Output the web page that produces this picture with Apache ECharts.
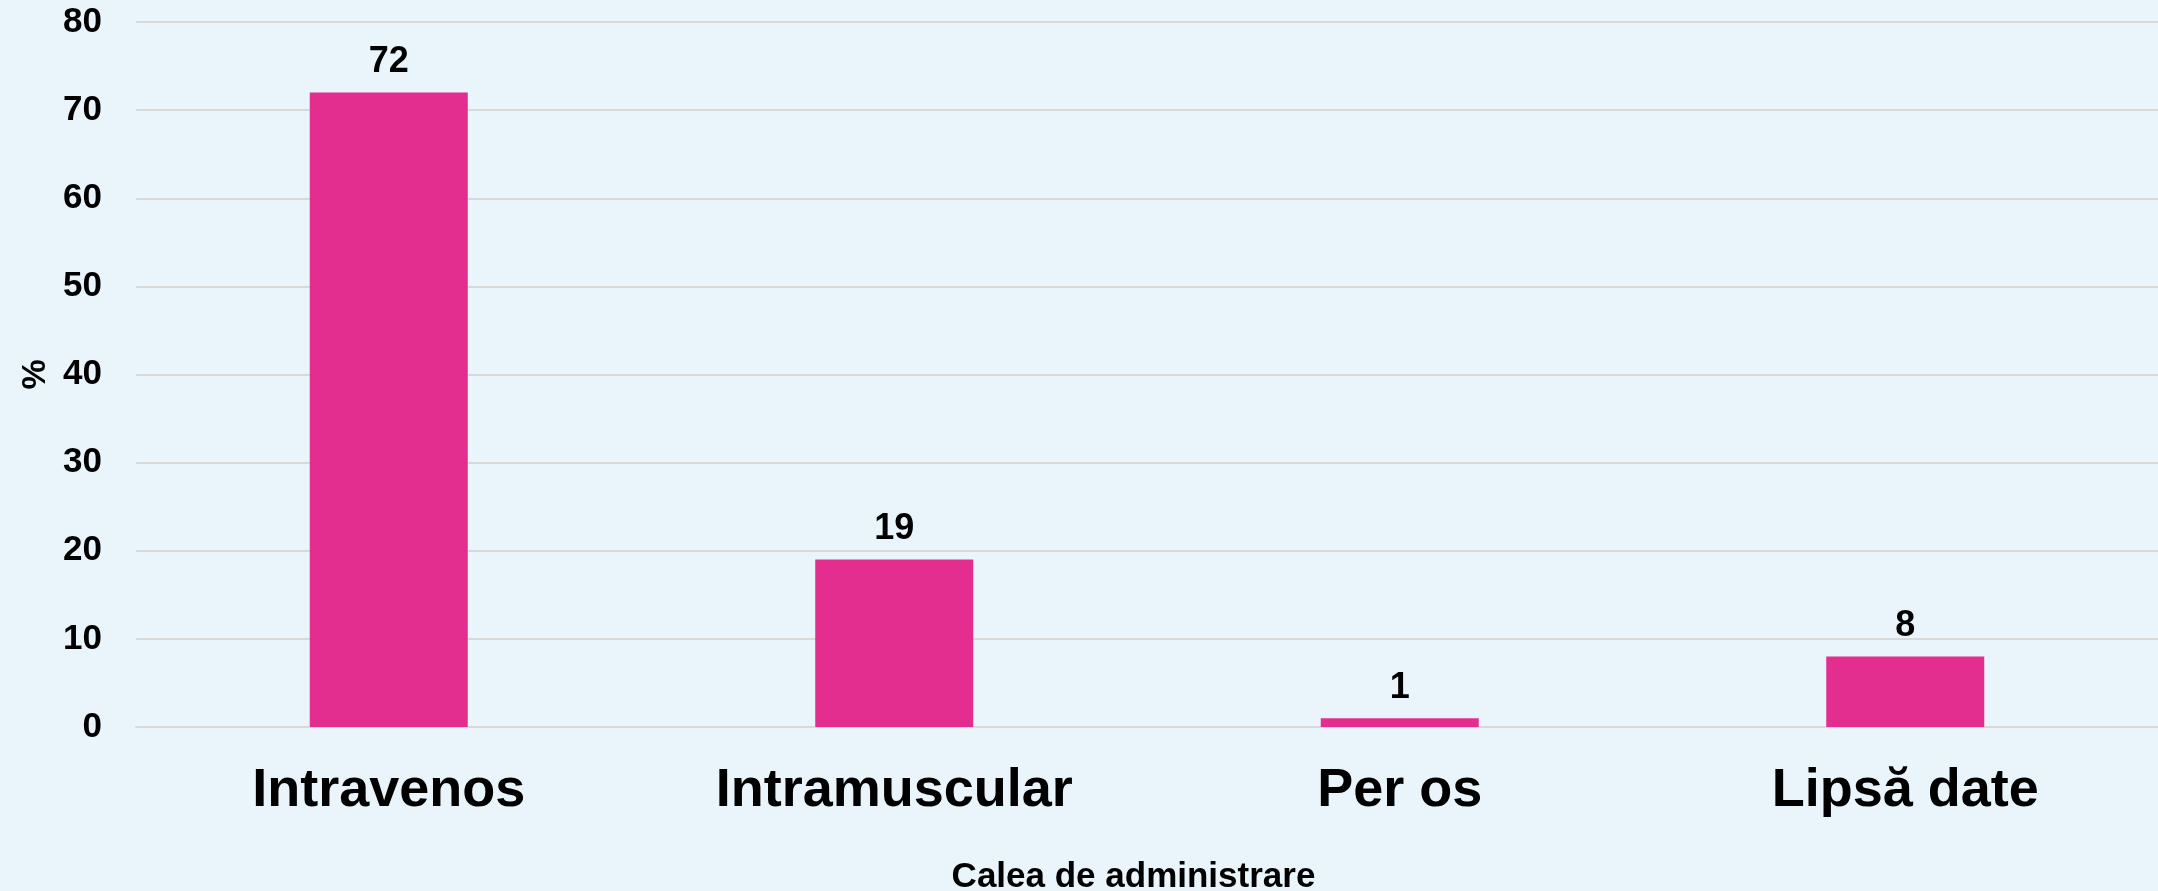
<!DOCTYPE html>
<html>
<head>
<meta charset="utf-8">
<title>Calea de administrare</title>
<script src="https://cdn.jsdelivr.net/npm/echarts@6/dist/echarts.min.js"></script>
<style>
  html, body { margin: 0; padding: 0; background: #eaf4fb; }
  #main { width: 2158px; height: 891px; }
</style>
</head>
<body>
<div id="main"></div>
<script>
// date
const categorii = ["Intravenos", "Intramuscular", "Per os", "Lipsă date"];
const procente = [72, 19, 1, 8];

const myChart = echarts.init(document.getElementById("main"));
myChart.setOption({
  backgroundColor: "#eaf4fb",
  textStyle: { fontFamily: "Liberation Sans, Arial, sans-serif" },
  grid: {
    left: 136,
    right: 0,
    top: 22,
    bottom: 164,
    outerBoundsMode: "none"
  },
  xAxis: {
    type: "category",
    data: categorii,
    name: "Calea de administrare",
    nameLocation: "middle",
    nameGap: 133,
    nameTextStyle: {
      fontSize: 35,
      fontWeight: "bold",
      color: "#000",
      padding: [0, 27, 0, 0]
    },
    axisLine: { lineStyle: { color: "#d9d9d9", width: 2 } },
    axisTick: { show: false },
    axisLabel: {
      fontSize: 54,
      fontWeight: "bold",
      color: "#000",
      margin: 37
    }
  },
  yAxis: {
    type: "value",
    min: 0,
    max: 80,
    interval: 10,
    name: "%",
    nameLocation: "middle",
    nameGap: 83,
    nameTextStyle: {
      fontSize: 34,
      fontWeight: "bold",
      color: "#000"
    },
    axisLine: { show: false },
    axisTick: { show: false },
    splitLine: { lineStyle: { color: "#d9d9d9", width: 2 } },
    axisLabel: {
      fontSize: 35,
      fontWeight: "bold",
      color: "#000",
      margin: 34
    }
  },
  series: [
    {
      name: "%",
      type: "bar",
      data: procente,
      barWidth: 158,
      itemStyle: { color: "#e32d8f" },
      label: {
        show: true,
        position: "top",
        distance: 12,
        fontSize: 36,
        fontWeight: "bold",
        color: "#000"
      }
    }
  ]
});

window.onresize = () => {
  myChart.resize();
};
</script>
</body>
</html>
